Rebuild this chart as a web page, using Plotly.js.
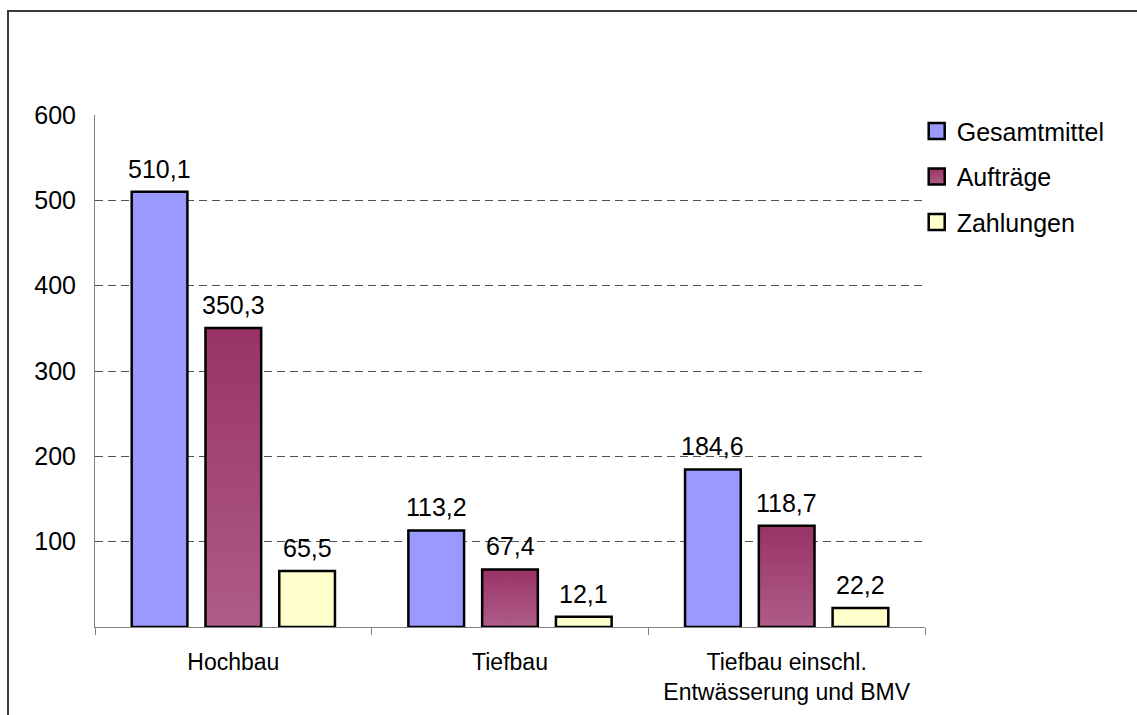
<!DOCTYPE html>
<html>
<head>
<meta charset="utf-8">
<script src="https://cdn.plot.ly/plotly-3.0.1.min.js"></script>
<style>
  html, body { margin: 0; padding: 0; background: #fff; }
  #wrap { position: relative; width: 1137px; height: 715px; overflow: hidden; }
  #chart { position: absolute; left: 0; top: 0; width: 1137px; height: 715px; }
  #frame { position: absolute; left: 7px; top: 10px; width: 1200px; height: 800px;
           border-left: 2px solid #3a3a3a; border-top: 2px solid #3a3a3a; pointer-events: none; }
</style>
</head>
<body>
<div id="wrap">
  <div id="chart"></div>
  <div id="frame"></div>
</div>
<script>
// ---- data ----
const categories = ["Hochbau", "Tiefbau", "Tiefbau einschl.<br>Entwässerung und BMV"];
const seriesNames = ["Gesamtmittel", "Aufträge", "Zahlungen"];
const gesamtmittel = [510.1, 113.2, 184.6];
const auftraege = [350.3, 67.4, 118.7];
const zahlungen = [65.5, 12.1, 22.2];
const yTickVals = [100, 200, 300, 400, 500, 600];
const yTickText = ["100", "200", "300", "400", "500", "600"];

const seriesValues = [gesamtmittel, auftraege, zahlungen];
const colors = ["#9999FF", "#A24A76", "#FFFFCC"];

const W = 1137, H = 715;
const margin = {l: 95, r: 212, t: 115, b: 88};
const bargap = 0.2, bargroupgap = 0.245;
const plotW = W - margin.l - margin.r;
const slot = (plotW / categories.length) * (1 - bargap) / seriesValues.length;

const fmt = v => v.toFixed(1).replace('.', ',');

const traces = [];
seriesValues.forEach((vals, i) => {
  traces.push({
    type: 'bar',
    name: seriesNames[i],
    x: categories,
    y: vals,
    marker: {color: colors[i], line: {color: '#000', width: 2.5}},
    showlegend: false,
    hoverinfo: 'skip'
  });
});
// legend entries
seriesValues.forEach((vals, i) => {
  traces.push({
    type: 'scatter',
    mode: 'markers',
    name: seriesNames[i],
    x: [null], y: [null],
    legendgroup: 'g' + i,
    marker: {symbol: 'square', size: 16, color: colors[i], line: {color: '#000', width: 2.5}},
    showlegend: true,
    hoverinfo: 'skip'
  });
});

const annotations = [];
seriesValues.forEach((vals, i) => {
  vals.forEach((v, j) => {
    annotations.push({
      x: categories[j], y: v, xref: 'x', yref: 'y',
      text: fmt(v), showarrow: false,
      xanchor: 'center', yanchor: 'bottom',
      xshift: (i - (seriesValues.length - 1) / 2) * slot,
      yshift: 7,
      font: {family: 'Liberation Sans, Arial, sans-serif', size: 25, color: '#000'}
    });
  });
});

const layout = {
  width: W, height: H,
  margin: margin,
  paper_bgcolor: '#fff',
  plot_bgcolor: '#fff',
  barmode: 'group',
  bargap: bargap,
  bargroupgap: bargroupgap,
  font: {family: 'Liberation Sans, Arial, sans-serif', color: '#000'},
  showlegend: true,
  legend: {
    x: 0.990, xanchor: 'left', y: 1.013, yanchor: 'top',
    font: {size: 25, color: '#000'},
    tracegroupgap: 10,
    itemwidth: 30,
    bgcolor: 'rgba(0,0,0,0)'
  },
  xaxis: {
    type: 'category',
    showline: true, linecolor: '#808080', linewidth: 1,
    ticks: 'outside', tickson: 'boundaries', ticklen: 7, tickcolor: '#808080',
    tickfont: {size: 23, color: '#000'},
    ticklabelstandoff: 14,
    showgrid: false, zeroline: false, fixedrange: true
  },
  yaxis: {
    range: [0, 600],
    tickvals: yTickVals, ticktext: yTickText,
    showline: true, linecolor: '#808080', linewidth: 1,
    ticks: '',
    tickfont: {size: 25, color: '#000'},
    ticklabelstandoff: 13,
    showgrid: true, gridcolor: '#505050', gridwidth: 1, griddash: '8px,5px',
    zeroline: false, fixedrange: true
  },
  annotations: annotations
};

function applyGradient() {
  const svg = document.querySelector('#chart svg.main-svg');
  if (!svg) return;
  let defs = svg.querySelector('defs');
  if (!defs) { defs = document.createElementNS('http://www.w3.org/2000/svg', 'defs'); svg.insertBefore(defs, svg.firstChild); }
  if (!document.getElementById('aufGrad')) {
    const g = document.createElementNS('http://www.w3.org/2000/svg', 'linearGradient');
    g.setAttribute('id', 'aufGrad');
    g.setAttribute('x1', '0'); g.setAttribute('y1', '0'); g.setAttribute('x2', '0'); g.setAttribute('y2', '1');
    [['0', '#993366'], ['1', '#AE5C88']].forEach(([o, c]) => {
      const s = document.createElementNS('http://www.w3.org/2000/svg', 'stop');
      s.setAttribute('offset', o); s.setAttribute('stop-color', c);
      g.appendChild(s);
    });
    defs.appendChild(g);
  }
  const barTraces = document.querySelectorAll('#chart .barlayer .trace');
  if (barTraces[1]) barTraces[1].querySelectorAll('.point path').forEach(p => { p.style.fill = 'url(#aufGrad)'; });
  const legTraces = document.querySelectorAll('#chart .legend .traces');
  if (legTraces[1]) legTraces[1].querySelectorAll('.legendpoints path').forEach(p => { p.style.fill = 'url(#aufGrad)'; });
}

Plotly.newPlot('chart', traces, layout, {displayModeBar: false, staticPlot: true}).then(applyGradient);
</script>
</body>
</html>
